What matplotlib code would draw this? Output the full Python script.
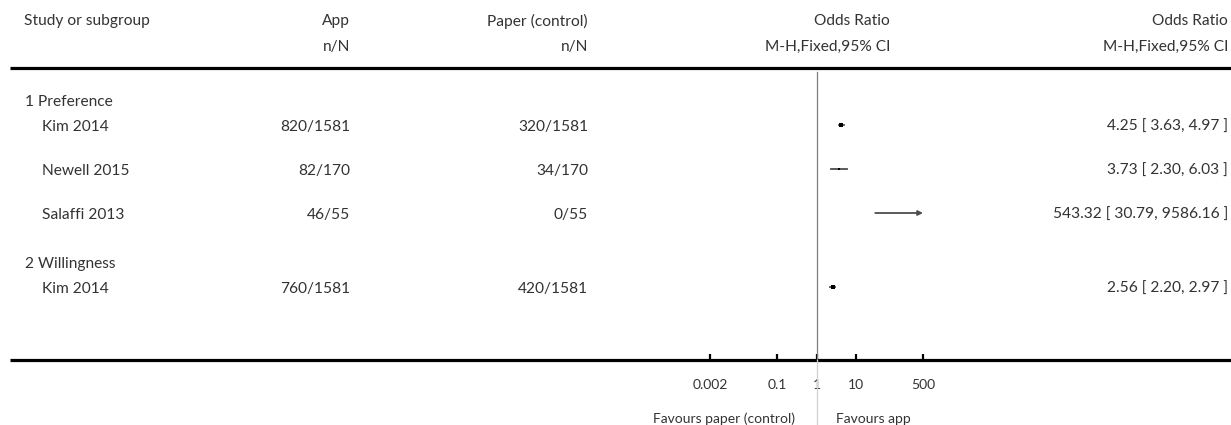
import matplotlib.pyplot as plt
import numpy as np

plt.rcParams["font.family"] = ["Lato", "DejaVu Sans"]

# Data
subgroups = ["1 Preference", "2 Willingness"]
studies = ["Kim 2014", "Newell 2015", "Salaffi 2013", "Kim 2014"]
study_group = [0, 0, 0, 1]
app_events = [820, 82, 46, 760]
app_total = [1581, 170, 55, 1581]
ctrl_events = [320, 34, 0, 420]
ctrl_total = [1581, 170, 55, 1581]
odds_ratio = [4.25, 3.73, 543.32, 2.56]
ci_low = [3.63, 2.30, 30.79, 2.20]
ci_high = [4.97, 6.03, 9586.16, 2.97]
tick_values = [0.002, 0.1, 1, 10, 500]
tick_labels = ["0.002", "0.1", "1", "10", "500"]

# Layout (pixel rows in a 1231x425 canvas)
W, H = 1231, 425
group_y = [100, 262]
row_y = [125, 169, 213, 287]
TXT = "#333333"
FS = 11.2
FS_AX = 10

fig = plt.figure(figsize=(W / 100, H / 100), dpi=100)
bg = fig.add_axes([0, 0, 1, 1])
bg.set_xlim(0, W)
bg.set_ylim(H, 0)
bg.axis("off")

# header
bg.text(24, 21, "Study or subgroup", fontsize=FS, color=TXT, va="center")
for x, top, bot in [(350, "App", "n/N"), (588, "Paper (control)", "n/N"),
                    (890, "Odds Ratio", "M-H,Fixed,95% CI"),
                    (1228, "Odds Ratio", "M-H,Fixed,95% CI")]:
    bg.text(x, 21, top, fontsize=FS, color=TXT, ha="right", va="center")
    bg.text(x, 47, bot, fontsize=FS, color=TXT, ha="right", va="center")

bg.plot([10, W], [68, 68], color="black", lw=2.3, solid_capstyle="butt")
bg.plot([10, W], [360, 360], color="black", lw=2.3, solid_capstyle="butt")

# table rows
for g, y in zip(subgroups, group_y):
    bg.text(25, y + 2, g, fontsize=FS, color=TXT, va="center")
for i, y in enumerate(row_y):
    yt = y + 2
    bg.text(42, yt, studies[i], fontsize=FS, color=TXT, va="center")
    bg.text(350, yt, f"{app_events[i]}/{app_total[i]}", fontsize=FS, color=TXT,
            ha="right", va="center")
    bg.text(588, yt, f"{ctrl_events[i]}/{ctrl_total[i]}", fontsize=FS, color=TXT,
            ha="right", va="center")
    bg.text(1228, yt, f"{odds_ratio[i]:.2f} [ {ci_low[i]:.2f}, {ci_high[i]:.2f} ]",
            fontsize=FS, color=TXT, ha="right", va="center")

# forest panel, log scale
x0, x1, y0, y1 = 710, 923, 72, 360
ax = fig.add_axes([x0 / W, (H - y1) / H, (x1 - x0) / W, (y1 - y0) / H])
ax.set_xscale("log")
xmin, xmax = tick_values[0], tick_values[-1]
ax.set_xlim(xmin, xmax)
ax.set_ylim(y1, y0)
ax.patch.set_visible(False)
for s in ax.spines.values():
    s.set_visible(False)
ax.set_yticks([])
ax.set_xticks(tick_values)
ax.set_xticklabels(tick_labels)
ax.minorticks_off()
ax.tick_params(axis="x", direction="in", length=4, width=1.6, color="black",
               pad=14, labelsize=FS_AX, labelcolor=TXT)

ax.plot([1, 1], [y0, y1], color="#7f7f7f", lw=0.9, clip_on=False)
ax.plot([1, 1], [y1, H], color="#d0d0d0", lw=0.9, clip_on=False)

# Mantel-Haenszel weights within each subgroup for marker size
raw_w = np.array([(at - ae) * ce / (at + ct) for ae, at, ce, ct in
                  zip(app_events, app_total, ctrl_events, ctrl_total)])
grp = np.array(study_group)
pct = np.array([raw_w[i] / raw_w[grp == grp[i]].sum() for i in range(len(raw_w))])

for i, y in enumerate(row_y):
    lo = max(ci_low[i], xmin)
    hi = min(ci_high[i], xmax)
    if ci_high[i] > xmax:
        ax.annotate("", xy=(xmax, y), xytext=(lo, y),
                    arrowprops=dict(arrowstyle="-|>", color="#4d4d4d", lw=1.3,
                                    mutation_scale=7, shrinkA=0, shrinkB=0))
    else:
        ax.plot([lo, hi], [y, y], color="#4d4d4d", lw=1.3)
    if pct[i] > 0 and xmin <= odds_ratio[i] <= xmax:
        ax.plot(odds_ratio[i], y, marker="s", color="black",
                markersize=1.2 + 1.8 * np.sqrt(pct[i]), markeredgewidth=0)

bg.text(795, 419, "Favours paper (control)", fontsize=FS_AX, color=TXT,
        ha="right", va="center")
bg.text(836, 419, "Favours app", fontsize=FS_AX, color=TXT, ha="left", va="center")

fig.savefig("out.png", dpi=100)
